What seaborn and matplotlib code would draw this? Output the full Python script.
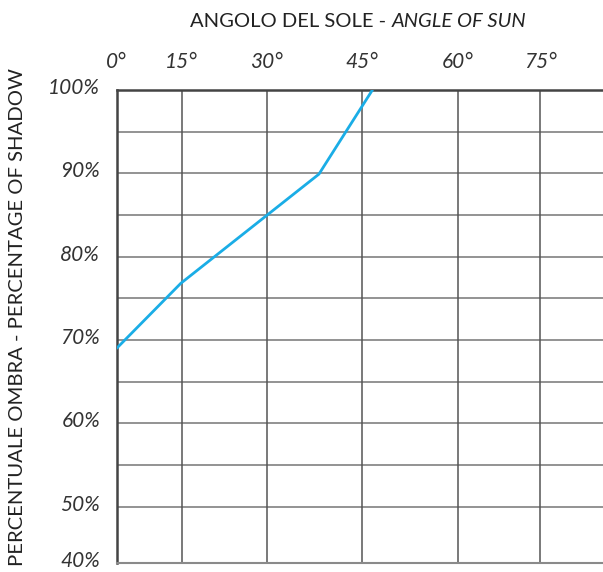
import numpy as np
import pandas as pd
import matplotlib
matplotlib.use('Agg')
import matplotlib.pyplot as plt
import matplotlib.transforms as mtransforms
import seaborn as sns

# data
sun_angle = [0, 14.8, 38.2, 46.6]
shadow_pct = [69.0, 76.8, 89.9, 100.0]

x_ticks = [0, 15, 30, 45, 60, 75]
x_labels = ['0°', '15°', '30°', '45°', '60°', '75°']
y_ticks = [40, 50, 60, 70, 80, 90, 100]
y_labels = ['40%', '50%', '60%', '70%', '80%', '90%', '100%']
y_minor = [55, 65, 75, 85, 95]

# the printed grid is not evenly spaced, so map values onto it piecewise
x_knots = [0, 15, 30, 45, 60, 75, 90]
x_pos = [116.7, 181.7, 266.7, 362.3, 457.7, 540.3, 622.9]
y_knots = [40, 50, 100]
y_pos = [43.2, 50, 100]


def piecewise(src, dst):
    src = np.asarray(src, float)
    dst = np.asarray(dst, float)

    def f(v):
        v = np.asarray(v, float)
        out = np.interp(v, src, dst)
        lo = (dst[1] - dst[0]) / (src[1] - src[0])
        hi = (dst[-1] - dst[-2]) / (src[-1] - src[-2])
        out = np.where(v < src[0], dst[0] + (v - src[0]) * lo, out)
        out = np.where(v > src[-1], dst[-1] + (v - src[-1]) * hi, out)
        return out
    return f


sns.set_style('white')
plt.rcParams['font.family'] = ['Lato', 'DejaVu Sans']

fig = plt.figure(figsize=(6.03, 5.72), dpi=100)
ax = fig.add_axes([0.1935, 0.0152, 0.8065, 0.8275])

ax.set_xscale('function', functions=(piecewise(x_knots, x_pos),
                                     piecewise(x_pos, x_knots)))
ax.set_yscale('function', functions=(piecewise(y_knots, y_pos),
                                     piecewise(y_pos, y_knots)))

df = pd.DataFrame({'angle': sun_angle, 'shadow': shadow_pct})
sns.lineplot(data=df, x='angle', y='shadow', ax=ax, color='#1AADE6',
             linewidth=2.0, zorder=3)

ax.set_xlim(0, 86.4)
ax.set_ylim(40, 100)

ax.xaxis.tick_top()
ax.set_xticks(x_ticks)
ax.set_xticklabels(x_labels, fontsize=15, style='italic', color='#333333')
ax.set_yticks(y_ticks)
ax.set_yticklabels(y_labels, fontsize=15, style='italic', color='#333333')
ax.set_yticks(y_minor, minor=True)
ax.tick_params(axis='both', which='both', length=0)
ax.tick_params(axis='x', pad=13)
ax.tick_params(axis='y', pad=12)

# labels sit a little above their grid lines in the original
shift = mtransforms.ScaledTranslation(0, 4 / 100, fig.dpi_scale_trans)
for lab in ax.get_yticklabels():
    lab.set_transform(lab.get_transform() + shift)

ax.grid(False)
for v in y_ticks[1:-1] + y_minor:
    ax.axhline(v, color='#8a8a8a', linewidth=1.3, zorder=1)
for v in x_ticks[1:]:
    ax.axvline(v, color='#555555', linewidth=1.1, zorder=1)

for side in ['top', 'left']:
    ax.spines[side].set_color('#444444')
    ax.spines[side].set_linewidth(1.8)
ax.spines['bottom'].set_color('#8a8a8a')
ax.spines['bottom'].set_linewidth(1.5)
ax.spines['right'].set_visible(False)

ax.set_xlabel('')
ax.set_ylabel('')

t1 = fig.text(0.315, 0.962, 'ANGOLO DEL SOLE - ', fontsize=14.5,
              color='#222222', va='center', ha='left')
ax.annotate('ANGLE OF SUN', xy=(1, 0), xycoords=t1, va='bottom',
            ha='left', fontsize=14.5, style='italic', color='#222222')

fig.text(0.029, 0.445, 'PERCENTUALE OMBRA - PERCENTAGE OF SHADOW',
         rotation=90, fontsize=14.6, color='#222222',
         va='center', ha='center')

plt.savefig('out.png', dpi=100)
